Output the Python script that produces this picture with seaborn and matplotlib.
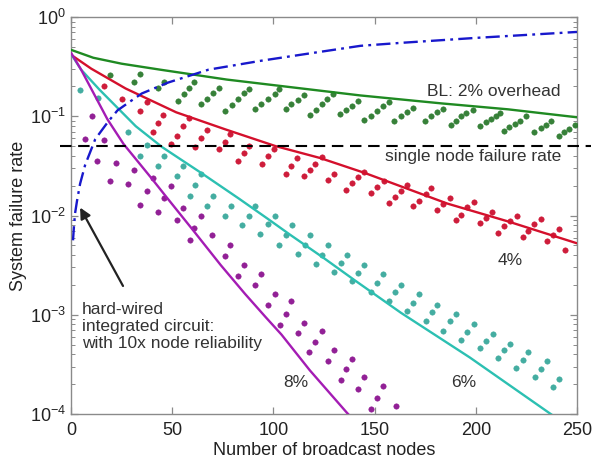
import numpy as np
import matplotlib
matplotlib.use("Agg")
import matplotlib.pyplot as plt
import seaborn as sns

# ---------------- data (log10 of failure rate) ----------------
green_line_x = [0, 11, 25, 44, 77, 110, 143, 183, 216, 250]
green_line_log = [-0.33, -0.41, -0.47, -0.53, -0.63, -0.71, -0.79, -0.87, -0.93, -1.01]

red_line_x = [0, 10, 27, 52, 76, 101, 123, 145, 186, 216, 250]
red_line_log = [-0.38, -0.52, -0.72, -0.96, -1.13, -1.30, -1.42, -1.57, -1.88, -2.06, -2.28]

cyan_line_x = [0, 5, 14, 32, 45, 65, 83, 97, 108, 125, 140, 163, 197, 237, 250]
cyan_line_log = [-0.37, -0.53, -0.73, -1.10, -1.31, -1.58, -1.83, -2.03, -2.19, -2.43, -2.65,
                 -2.98, -3.43, -4.00, -4.18]

magenta_line_x = [0, 5, 18, 26, 40, 47, 60, 74, 86, 96, 104, 118, 136, 145]
magenta_line_log = [-0.36, -0.53, -1.03, -1.28, -1.63, -1.81, -2.14, -2.50, -2.79, -3.02,
                    -3.20, -3.56, -3.98, -4.18]

hardwired_x = [1, 1.5, 2, 3, 4.5, 7, 12, 18.5, 23, 30, 35, 48, 68, 94, 120, 143, 163, 200, 250]
hardwired_log = [-2.25, -2.10, -1.98, -1.85, -1.68, -1.49, -1.23, -1.05, -0.94, -0.84, -0.77,
                 -0.66, -0.53, -0.44, -0.36, -0.29, -0.26, -0.21, -0.15]

single_node_x = [-5.5, 257]
single_node_rate = [0.05, 0.05]

green_dots_x = [19.3, 31.3, 34.2, 43.2, 46.2, 52.8, 55.6, 58.4, 61.0, 64.4, 67.2, 70.4, 73.3,
                76.2, 79.5, 82.5, 85.3, 87.8, 91.1, 94.0, 97.4, 100.6, 103.0, 106.0, 108.9,
                112.2, 115.0, 118.3, 121.1, 124.1, 126.6, 129.4, 133.0, 136.0, 139.0, 141.6,
                145.0, 148.0, 151.0, 154.0, 157.0, 159.4, 163.0, 166.0, 169.0, 175.0, 178.0,
                181.0, 184.0, 187.6, 190.0, 192.6, 195.0, 198.5, 202.0, 205.0, 207.4, 210.0,
                212.0, 214.0, 216.6, 219.6, 222.0, 225.0, 229.0, 232.0, 234.5, 237.0, 241.0,
                243.6, 246.0, 249.0]
green_dots_log = [-0.58, -0.65, -0.57, -0.71, -0.65, -0.85, -0.78, -0.71, -0.65, -0.88, -0.83,
                  -0.77, -0.71, -0.95, -0.89, -0.83, -0.77, -0.72, -0.93, -0.88, -0.83, -0.78,
                  -0.73, -0.93, -0.88, -0.84, -0.79, -0.99, -0.94, -0.88, -0.83, -0.78, -0.98,
                  -0.94, -0.90, -0.85, -1.04, -1.00, -0.95, -0.90, -0.86, -1.05, -1.00, -0.96,
                  -0.92, -1.05, -1.00, -0.96, -0.93, -1.09, -1.05, -1.00, -0.97, -0.94, -1.10,
                  -1.06, -1.03, -1.00, -0.97, -1.15, -1.11, -1.08, -1.05, -1.00, -1.16, -1.12,
                  -1.09, -1.05, -1.20, -1.16, -1.13, -1.09]

red_dots_x = [16.5, 25.1, 34.2, 37.5, 40.3, 43.2, 45.7, 49.5, 52.3, 55.1, 58.4, 61.4, 64.4,
              67.2, 73.3, 76.2, 78.7, 82.5, 85.3, 87.8, 94.4, 97.4, 100.1, 106.0, 108.9, 111.7,
              115.0, 118.3, 120.8, 124.1, 126.9, 129.9, 136.1, 139.0, 141.9, 145.0, 148.0,
              151.0, 154.6, 157.0, 160.0, 162.9, 166.2, 169.1, 171.9, 175.2, 178.1, 181.0,
              184.0, 187.1, 190.1, 192.9, 195.9, 199.0, 202.1, 204.9, 208.2, 211.0, 214.0,
              217.0, 220.3, 223.1, 225.9, 228.9, 232.2, 235.1, 238.3, 241.2, 244.2]
red_dots_log = [-0.69, -0.83, -0.95, -0.86, -1.16, -1.07, -0.99, -1.28, -1.20, -1.10, -1.02,
                -1.31, -1.22, -1.14, -1.33, -1.26, -1.18, -1.45, -1.37, -1.30, -1.48, -1.40,
                -1.33, -1.58, -1.50, -1.42, -1.60, -1.54, -1.48, -1.41, -1.64, -1.58, -1.74,
                -1.67, -1.61, -1.56, -1.77, -1.71, -1.65, -1.87, -1.81, -1.75, -1.69, -1.90,
                -1.85, -1.78, -1.72, -1.94, -1.88, -1.82, -2.05, -1.99, -1.91, -1.86, -2.08,
                -2.02, -1.96, -2.18, -2.11, -2.06, -2.00, -2.22, -2.16, -2.09, -2.04, -2.26,
                -2.20, -2.14, -2.35]

cyan_dots_x = [4.5, 13.2, 28.4, 34.2, 37.5, 43.2, 46.2, 52.3, 55.1, 58.9, 61.4, 64.4, 67.2,
               70.4, 76.2, 79.2, 84.5, 87.8, 91.1, 93.6, 97.4, 100.6, 102.6, 106.0, 109.3,
               112.2, 115.5, 118.3, 121.1, 124.1, 126.9, 129.9, 133.2, 136.5, 139.0, 141.9,
               145.0, 148.0, 151.0, 154.3, 157.1, 160.0, 163.0, 166.2, 169.1, 171.9, 175.2,
               178.2, 181.0, 183.8, 187.3, 190.1, 192.9, 195.9, 199.2, 202.0, 205.0, 208.3,
               211.0, 214.0, 216.8, 220.1, 223.1, 225.9, 229.2, 232.2, 235.0, 238.0, 241.2]
cyan_dots_log = [-0.74, -0.82, -1.16, -1.40, -1.29, -1.50, -1.40, -1.60, -1.50, -1.80, -1.69,
                 -1.58, -1.90, -1.80, -2.00, -1.90, -2.10, -2.00, -1.90, -2.19, -2.09, -2.00,
                 -2.30, -2.20, -2.10, -2.39, -2.30, -2.20, -2.49, -2.40, -2.30, -2.57, -2.48,
                 -2.40, -2.66, -2.58, -2.50, -2.77, -2.68, -2.59, -2.86, -2.77, -2.70, -2.96,
                 -2.88, -2.79, -3.06, -2.97, -2.90, -3.16, -3.06, -2.99, -3.25, -3.17, -3.09,
                 -3.34, -3.26, -3.19, -3.44, -3.36, -3.29, -3.54, -3.46, -3.38, -3.63, -3.55,
                 -3.47, -3.73, -3.65]

magenta_dots_x = [6.9, 10.2, 13.0, 16.3, 19.3, 22.3, 28.4, 31.3, 34.2, 37.5, 40.3, 43.2, 46.2,
                  49.5, 52.3, 55.1, 58.6, 61.0, 64.4, 69.6, 76.2, 78.7, 82.5, 85.3, 91.1, 94.0,
                  97.4, 100.6, 103.1, 106.3, 108.8, 112.2, 115.3, 117.5, 120.8, 124.1, 126.9,
                  129.9, 133.2, 136.0, 138.9, 141.9, 144.7, 148.4, 151.3, 154.3, 160.4]
magenta_dots_log = [-1.23, -1.00, -1.45, -1.24, -1.65, -1.47, -1.68, -1.54, -1.89, -1.75, -1.62,
                    -1.96, -1.82, -1.70, -2.05, -1.92, -2.25, -2.13, -2.00, -2.20, -2.41, -2.30,
                    -2.61, -2.50, -2.70, -2.59, -2.90, -2.79, -3.10, -2.99, -2.86, -3.18, -3.08,
                    -3.38, -3.27, -3.16, -3.47, -3.36, -3.66, -3.55, -3.45, -3.75, -3.63, -3.95,
                    -3.84, -3.72, -3.92]

x_ticks = [0, 50, 100, 150, 200, 250]

# ---------------- style ----------------
sns.set_style("ticks")
plt.rcParams["font.family"] = ["Liberation Sans", "DejaVu Sans"]
plt.rcParams["mathtext.fontset"] = "custom"
plt.rcParams["mathtext.rm"] = "Liberation Sans"

GREEN, GREEN_DOT = "#1f8a22", "#2c7a2e"
RED, RED_DOT = "#d4102c", "#cc1030"
CYAN, CYAN_DOT = "#2cc0b2", "#3aa99c"
MAG, MAG_DOT = "#a41cb4", "#8c1490"
BLUE = "#1818cc"

fig = plt.figure(figsize=(5.93, 4.61), dpi=100)
ax = fig.add_axes([0.1197, 0.102, 0.8533, 0.861])
ax.set_yscale("log")

def p(v):
    return 10.0 ** np.asarray(v)

# dots
for xs, ys, c in [(green_dots_x, green_dots_log, GREEN_DOT), (red_dots_x, red_dots_log, RED_DOT),
                  (cyan_dots_x, cyan_dots_log, CYAN_DOT), (magenta_dots_x, magenta_dots_log, MAG_DOT)]:
    sns.scatterplot(x=xs, y=p(ys), color=c, s=15, edgecolor=c, linewidth=0.4, alpha=0.95,
                    ax=ax, zorder=3, legend=False)

# lines
for xs, ys, c in [(green_line_x, green_line_log, GREEN), (red_line_x, red_line_log, RED),
                  (cyan_line_x, cyan_line_log, CYAN), (magenta_line_x, magenta_line_log, MAG)]:
    sns.lineplot(x=xs, y=p(ys), color=c, lw=1.7, ax=ax, estimator=None, sort=False, zorder=4)

sns.lineplot(x=hardwired_x, y=p(hardwired_log), color=BLUE, lw=1.7, ax=ax, estimator=None,
             sort=False, linestyle=(0, (6, 2.2, 1.2, 2.2)), zorder=4)

sns.lineplot(x=single_node_x, y=single_node_rate, color="black", lw=1.5, ax=ax, estimator=None,
             sort=False, linestyle=(0, (5.5, 3.2)), clip_on=False, zorder=5)

ax.set_xlim(0, 250)
ax.set_ylim(1e-4, 1)
ax.set_xticks(x_ticks)

for sp in ax.spines.values():
    sp.set_color("#8a8a8a")
    sp.set_linewidth(1.0)
ax.tick_params(which="both", direction="in", top=True, right=True, color="#8a8a8a",
               labelsize=13, labelcolor="#222222")
ax.tick_params(which="major", length=5, width=0.9)
ax.tick_params(which="minor", length=3, width=0.7)
ax.tick_params(axis="x", pad=6)

ax.set_xlabel("Number of broadcast nodes", fontsize=13, color="#222222", labelpad=2)
ax.set_ylabel("System failure rate", fontsize=13, color="#222222", labelpad=2)

txt = dict(fontsize=12.5, color="#333333")
ax.text(242, p(-0.755), "BL: 2% overhead", ha="right", va="center", **txt)
ax.text(242, p(-1.41), "single node failure rate", ha="right", va="center", **txt)
ax.text(217, p(-2.45), "4%", ha="center", va="center", **txt)
ax.text(194, p(-3.68), "6%", ha="center", va="center", **txt)
ax.text(111, p(-3.68), "8%", ha="center", va="center", **txt)
ax.text(5.4, p(-3.12), "hard-wired\nintegrated circuit:\nwith 10x node reliability",
        ha="left", va="center", linespacing=1.15, **txt)

ax.annotate("", xy=(4.5, p(-1.92)), xytext=(25.7, p(-2.71)),
            arrowprops=dict(arrowstyle="-|>", color="#222222", lw=1.6, mutation_scale=16,
                            shrinkA=0, shrinkB=0))

fig.savefig("out.png", dpi=100)
